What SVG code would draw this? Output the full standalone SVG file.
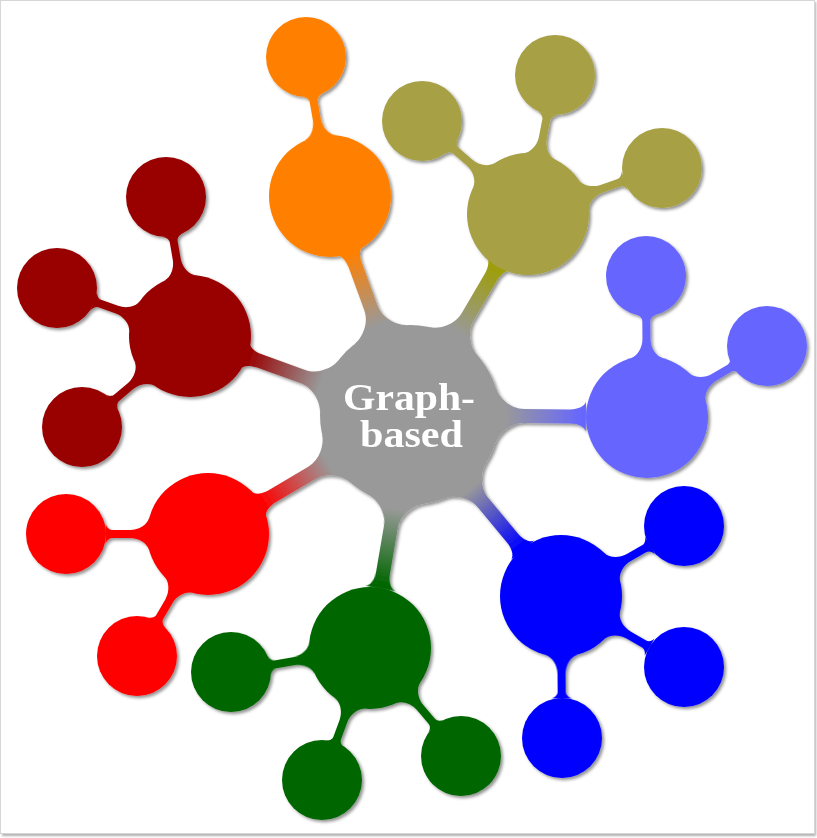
<svg xmlns="http://www.w3.org/2000/svg" width="817" height="838" viewBox="0 0 817 838">
<defs>
<style>
.ctext{font-family:"Liberation Serif","Times New Roman",serif;font-weight:bold;font-size:37px;fill:#ffffff;text-anchor:middle}
</style>
<filter id="shadow" x="-10%" y="-10%" width="120%" height="120%">
<feDropShadow dx="2.2" dy="2.2" stdDeviation="1.8" flood-color="#000" flood-opacity="0.42"/>
</filter>
<filter id="pageblur" x="-5%" y="-5%" width="110%" height="110%">
<feGaussianBlur stdDeviation="1"/>
</filter>
<path id="bar1" d="M85.5,-28 C88.6,-18.5 100,-7 114,-7 L160,-7 C168,-7 174.7,-10.2 175.9,-15 L175.9,15 C174.7,10.2 168,7 160,7 L114,7 C100,7 88.6,18.5 85.5,28 Z"/>
<path id="bar2" d="M58.9,-16 C60.7,-9.5 69,-4 78,-4 L96,-4 C99,-4 101.55,-7.1 102.3,-10 L102.3,10 C101.55,7.1 99,4 96,4 L78,4 C69,4 60.7,9.5 58.9,16 Z"/>
<linearGradient id="gOrange" gradientUnits="userSpaceOnUse" x1="95" y1="0" x2="172" y2="0"><stop offset="0" stop-color="#999999"/><stop offset="1" stop-color="#FF8000"/></linearGradient>
<linearGradient id="gOlive" gradientUnits="userSpaceOnUse" x1="95" y1="0" x2="172" y2="0"><stop offset="0" stop-color="#999999"/><stop offset="1" stop-color="#9E9E05"/></linearGradient>
<linearGradient id="gLBlue" gradientUnits="userSpaceOnUse" x1="95" y1="0" x2="172" y2="0"><stop offset="0" stop-color="#999999"/><stop offset="1" stop-color="#6666FF"/></linearGradient>
<linearGradient id="gBlue" gradientUnits="userSpaceOnUse" x1="95" y1="0" x2="172" y2="0"><stop offset="0" stop-color="#999999"/><stop offset="1" stop-color="#0000FF"/></linearGradient>
<linearGradient id="gGreen" gradientUnits="userSpaceOnUse" x1="95" y1="0" x2="172" y2="0"><stop offset="0" stop-color="#999999"/><stop offset="1" stop-color="#006600"/></linearGradient>
<linearGradient id="gRed" gradientUnits="userSpaceOnUse" x1="95" y1="0" x2="172" y2="0"><stop offset="0" stop-color="#999999"/><stop offset="1" stop-color="#FF0000"/></linearGradient>
<linearGradient id="gDRed" gradientUnits="userSpaceOnUse" x1="95" y1="0" x2="172" y2="0"><stop offset="0" stop-color="#999999"/><stop offset="1" stop-color="#990000"/></linearGradient>
</defs>

<rect x="2" y="2" width="814" height="834" fill="#b0b0b0" filter="url(#pageblur)"/>
<rect x="0.5" y="0.5" width="814" height="833" fill="#ffffff" stroke="#d6d6d6" stroke-width="1"/>

<g filter="url(#shadow)">
<g id="connectors">
<use href="#bar1" fill="url(#gOrange)" transform="translate(410,415) rotate(-110.07)"/>
<use href="#bar1" fill="url(#gOlive)" transform="translate(410,415) rotate(-59.6)"/>
<use href="#bar1" fill="url(#gLBlue)" transform="translate(410,415) rotate(0.5)"/>
<use href="#bar1" fill="url(#gBlue)" transform="translate(410,415) rotate(50.2)"/>
<use href="#bar1" fill="url(#gGreen)" transform="translate(410,415) rotate(99.7)"/>
<use href="#bar1" fill="url(#gRed)" transform="translate(410,415) rotate(149.5)"/>
<use href="#bar1" fill="url(#gDRed)" transform="translate(410,415) rotate(-160.25)"/>

<use href="#bar2" fill="#FF8000" transform="translate(330,196) rotate(-99.8)"/>
<use href="#bar2" fill="#A7A045" transform="translate(528,214) rotate(-138.7)"/>
<use href="#bar2" fill="#A7A045" transform="translate(528,214) rotate(-79)"/>
<use href="#bar2" fill="#A7A045" transform="translate(528,214) rotate(-18.95)"/>
<use href="#bar2" fill="#6666FF" transform="translate(647,417) rotate(-90.4)"/>
<use href="#bar2" fill="#6666FF" transform="translate(647,417) rotate(-30.6)"/>
<use href="#bar2" fill="#0000FF" transform="translate(561,596) rotate(-29.65)"/>
<use href="#bar2" fill="#0000FF" transform="translate(561,596) rotate(30)"/>
<use href="#bar2" fill="#0000FF" transform="translate(561,596) rotate(89.6)"/>
<use href="#bar2" fill="#006600" transform="translate(370,648) rotate(170.2)"/>
<use href="#bar2" fill="#006600" transform="translate(370,648) rotate(49.9)"/>
<use href="#bar2" fill="#006600" transform="translate(370,648) rotate(110)"/>
<use href="#bar2" fill="#FF0000" transform="translate(208,534) rotate(180)"/>
<use href="#bar2" fill="#FF0000" transform="translate(208,534) rotate(120.2)"/>
<use href="#bar2" fill="#990000" transform="translate(190,336) rotate(-99.8)"/>
<use href="#bar2" fill="#990000" transform="translate(190,336) rotate(-160.2)"/>
<use href="#bar2" fill="#990000" transform="translate(190,336) rotate(139.9)"/>
</g>

<g id="node-center">
<circle cx="410" cy="415" r="90" fill="#999999"/>
<text class="ctext" x="409" y="410" textLength="132" lengthAdjust="spacingAndGlyphs">Graph-</text>
<text class="ctext" x="411.5" y="447" textLength="103" lengthAdjust="spacingAndGlyphs">based</text>
</g>

<g id="node-orange"><circle cx="330" cy="196" r="61" fill="#FF8000"/></g>
<g id="node-orange-1"><circle cx="306" cy="57" r="40" fill="#FF8000"/></g>

<g id="node-olive"><circle cx="528" cy="214" r="61" fill="#A7A045"/></g>
<g id="node-olive-1"><circle cx="422" cy="121" r="40" fill="#A7A045"/></g>
<g id="node-olive-2"><circle cx="555" cy="75" r="40" fill="#A7A045"/></g>
<g id="node-olive-3"><circle cx="662" cy="168" r="40" fill="#A7A045"/></g>

<g id="node-lightblue"><circle cx="647" cy="417" r="61" fill="#6666FF"/></g>
<g id="node-lightblue-1"><circle cx="646" cy="276" r="40" fill="#6666FF"/></g>
<g id="node-lightblue-2"><circle cx="767" cy="346" r="40" fill="#6666FF"/></g>

<g id="node-blue"><circle cx="561" cy="596" r="61" fill="#0000FF"/></g>
<g id="node-blue-1"><circle cx="684" cy="526" r="40" fill="#0000FF"/></g>
<g id="node-blue-2"><circle cx="684" cy="667" r="40" fill="#0000FF"/></g>
<g id="node-blue-3"><circle cx="562" cy="738" r="40" fill="#0000FF"/></g>

<g id="node-green"><circle cx="370" cy="648" r="61" fill="#006600"/></g>
<g id="node-green-1"><circle cx="231" cy="672" r="40" fill="#006600"/></g>
<g id="node-green-2"><circle cx="461" cy="756" r="40" fill="#006600"/></g>
<g id="node-green-3"><circle cx="322" cy="780" r="40" fill="#006600"/></g>

<g id="node-red"><circle cx="208" cy="534" r="61" fill="#FF0000"/></g>
<g id="node-red-1"><circle cx="66" cy="534" r="40" fill="#FF0000"/></g>
<g id="node-red-2"><circle cx="137" cy="656" r="40" fill="#FF0000"/></g>

<g id="node-darkred"><circle cx="190" cy="336" r="61" fill="#990000"/></g>
<g id="node-darkred-1"><circle cx="166" cy="197" r="40" fill="#990000"/></g>
<g id="node-darkred-2"><circle cx="57" cy="288" r="40" fill="#990000"/></g>
<g id="node-darkred-3"><circle cx="82" cy="427" r="40" fill="#990000"/></g>
</g>
</svg>
